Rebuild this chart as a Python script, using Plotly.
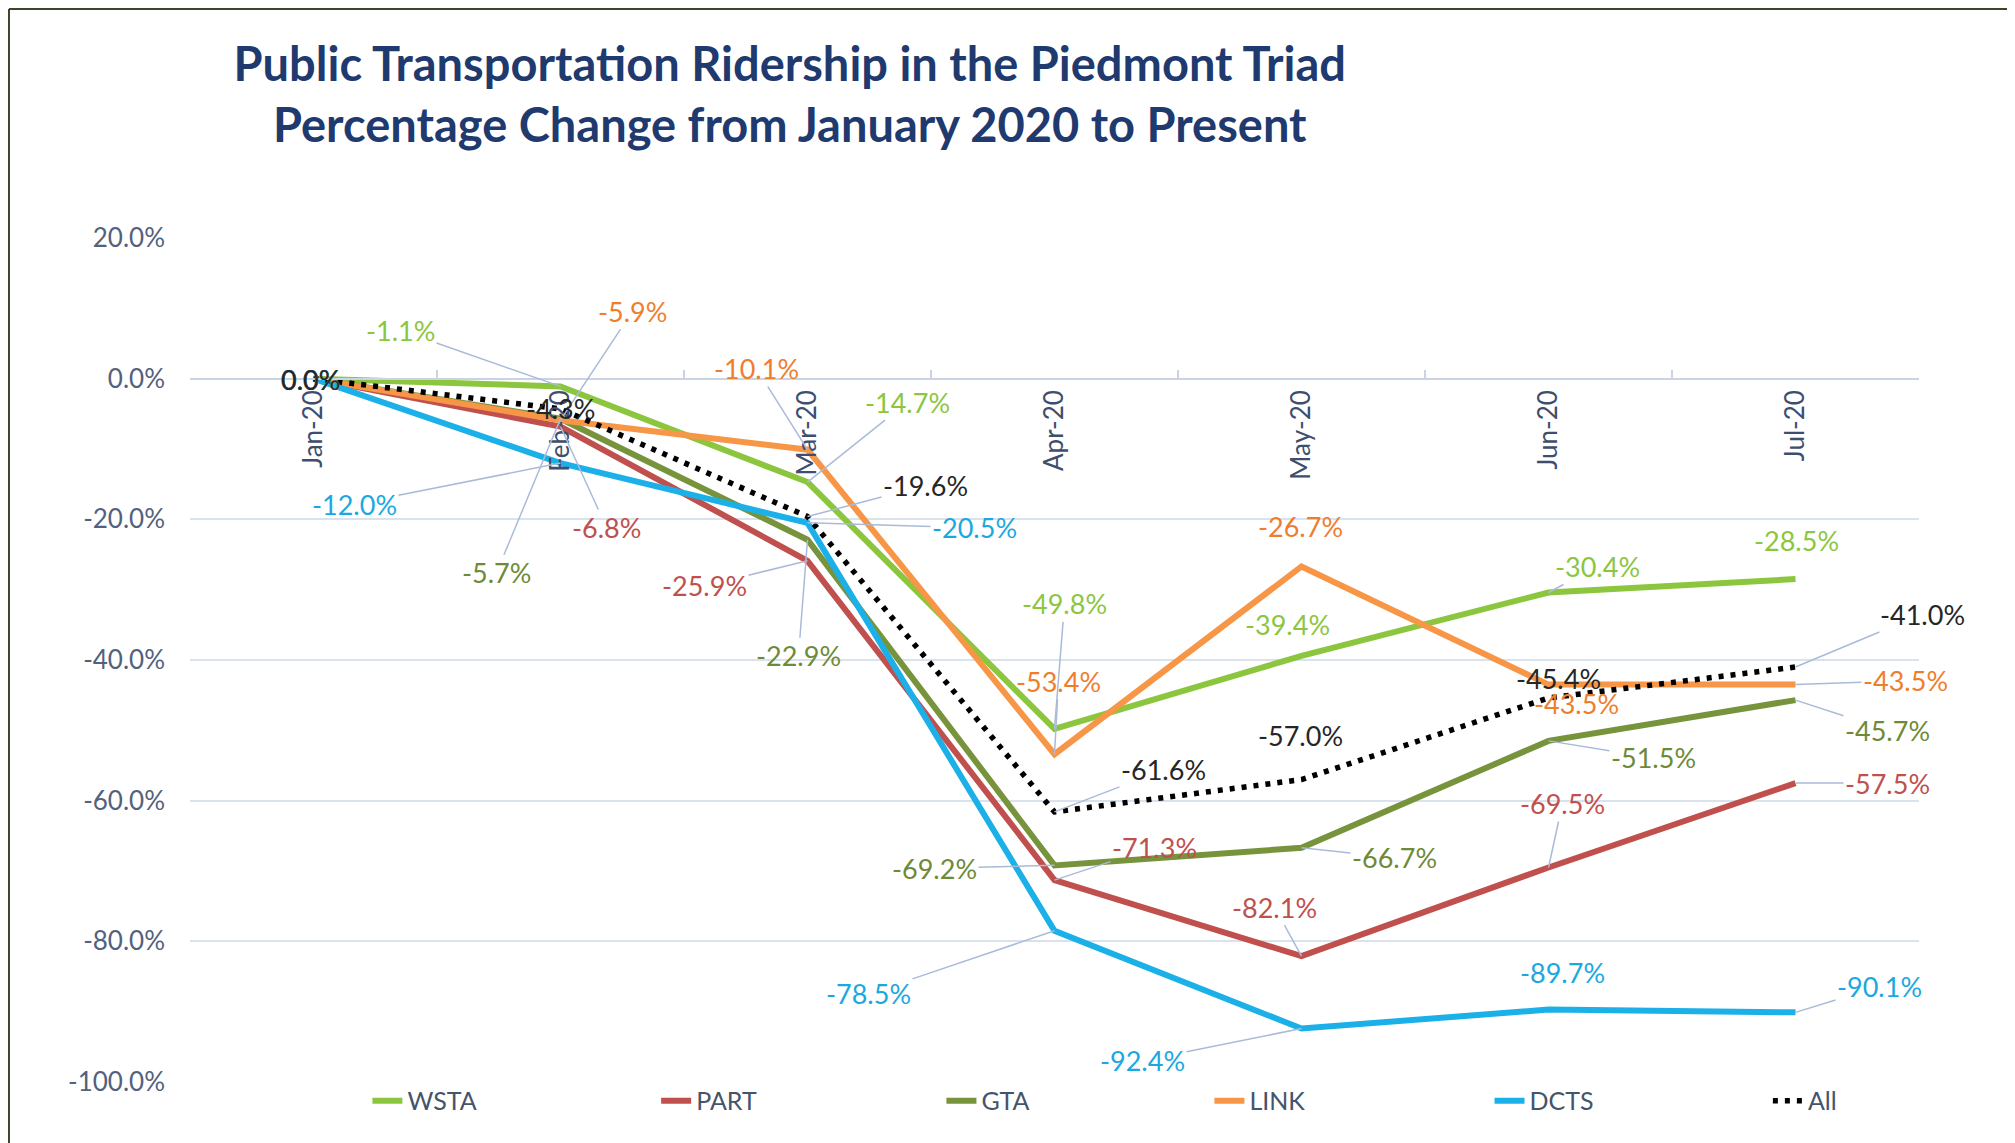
import plotly.graph_objects as go

months = ['Jan-20', 'Feb-20', 'Mar-20', 'Apr-20', 'May-20', 'Jun-20', 'Jul-20']

wsta = [0.0, -1.1, -14.7, -49.8, -39.4, -30.4, -28.5]
part = [0.0, -6.8, -25.9, -71.3, -82.1, -69.5, -57.5]
gta = [0.0, -5.7, -22.9, -69.2, -66.7, -51.5, -45.7]
link = [0.0, -5.9, -10.1, -53.4, -26.7, -43.5, -43.5]
dcts = [0.0, -12.0, -20.5, -78.5, -92.4, -89.7, -90.1]
all_ = [0.0, -4.3, -19.6, -61.6, -57.0, -45.4, -41.0]

y_ticks = [20, 0, -20, -40, -60, -80, -100]
y_ticktext = ['20.0%', '0.0%', '-20.0%', '-40.0%', '-60.0%', '-80.0%', '-100.0%']

# (name, values, line colour, label colour, dash)
series = [
    ('WSTA', wsta, '#8cc63f', '#8cc63f', 'solid'),
    ('PART', part, '#c0504d', '#c0504d', 'solid'),
    ('GTA', gta, '#77933c', '#6f8a36', 'solid'),
    ('LINK', link, '#f79646', '#ee7e2d', 'solid'),
    ('DCTS', dcts, '#1cb0e8', '#1ba8e0', 'solid'),
    ('All', all_, '#000000', '#262626', '5px,7px'),
]

# pixel offsets of each data label from its point (Jan..Jul)
label_offsets = {
    'WSTA': [(-3, 1), (-160, -56), (100, -80), (10, -125), (-14, -31), (49, -26), (1, -39)],
    'PART': [(-3, 1), (46, 101), (-103, 25), (100, -33), (-27, -49), (14, -64), (92, 0)],
    'GTA': [(-3, 1), (-64, 154), (-9, 116), (-120, 3), (93, 10), (105, 17), (92, 30)],
    'LINK': [(-3, 1), (72, -109), (-51, -81), (4, -73), (-1, -40), (28, 19), (110, -4)],
    'DCTS': [(-3, 1), (-206, 41), (167, 5), (-186, 63), (-159, 32), (14, -37), (84, -26)],
    'All': [(-3, 1), (0, 0), (118, -31), (109, -42), (-1, -44), (10, -19), (127, -53)],
}

# left edge of each legend entry, as a fraction of the plot width
legend_x = [0.1026, 0.2696, 0.4346, 0.5896, 0.7516, 0.9126]

FONT = 'Lato, Open Sans, sans-serif'

fig = go.Figure()

for k, (name, vals, col, lcol, dash) in enumerate(series):
    fig.add_trace(go.Scatter(x=months, y=vals, mode='lines', name=name,
                             legend='legend' if k == 0 else 'legend%d' % (k + 1),
                             line=dict(color=col, width=6 if dash == 'solid' else 5.5, dash=dash)))

annotations = []
for name, vals, col, lcol, dash in series:
    for i, v in enumerate(vals):
        dx, dy = label_offsets[name][i]
        dist = (dx * dx + dy * dy) ** 0.5
        annotations.append(dict(
            x=months[i], y=v, xref='x', yref='y',
            text='%.1f%%' % v,
            showarrow=dist > 45,
            ax=dx, ay=dy,
            xshift=0 if dist > 45 else dx,
            yshift=0 if dist > 45 else -dy,
            arrowhead=0, arrowwidth=1.5, arrowcolor='#a9bbd8',
            font=dict(family=FONT, size=27, color=lcol),
        ))

legends = {}
for k, lx in enumerate(legend_x):
    key = 'legend' if k == 0 else 'legend%d' % (k + 1)
    legends[key] = dict(orientation='h', x=lx, xanchor='left', y=-0.0225, yanchor='middle',
                        font=dict(family=FONT, size=25, color='#44546a'),
                        bgcolor='rgba(0,0,0,0)')

fig.update_layout(
    width=2015, height=1143,
    margin=dict(l=182, r=104, t=230, b=69),
    paper_bgcolor='white', plot_bgcolor='white',
    title=dict(
        text='Public Transportation Ridership in the Piedmont Triad<br>Percentage Change from January 2020 to Present',
        x=0.388, xanchor='center', y=0.936, yanchor='top',
        font=dict(family=FONT, size=47, color='#1f3a6e', weight='bold'),
    ),
    showlegend=True,
    annotations=annotations,
    shapes=[
        dict(type='line', xref='paper', yref='paper', x0=-0.1047, x1=-0.1047, y0=-0.09, y1=1.2713,
             line=dict(color='#3a4629', width=2)),
        dict(type='line', xref='paper', yref='paper', x0=-0.1047, x1=1.07, y0=1.2713, y1=1.2713,
             line=dict(color='#3a4629', width=2)),
    ],
    **legends,
)

fig.update_xaxes(
    type='category', range=[-0.5, 6.5],
    anchor='free', position=100 / 120,
    showline=True, linecolor='#c9d3e2', linewidth=2,
    ticks='inside', tickson='boundaries', ticklen=8, tickcolor='#c9d3e2', tickwidth=2,
    tickangle=-90, showgrid=False,
    tickfont=dict(family=FONT, size=26, color='#3d4e6e'),
)
fig.update_yaxes(
    range=[-100, 20], tickvals=y_ticks, ticktext=y_ticktext,
    showgrid=True, gridcolor='#dae2ee', gridwidth=2, zeroline=False,
    ticks='', ticklabelstandoff=24,
    tickfont=dict(family=FONT, size=26, color='#52617d'),
)

fig.write_html("out.html")
